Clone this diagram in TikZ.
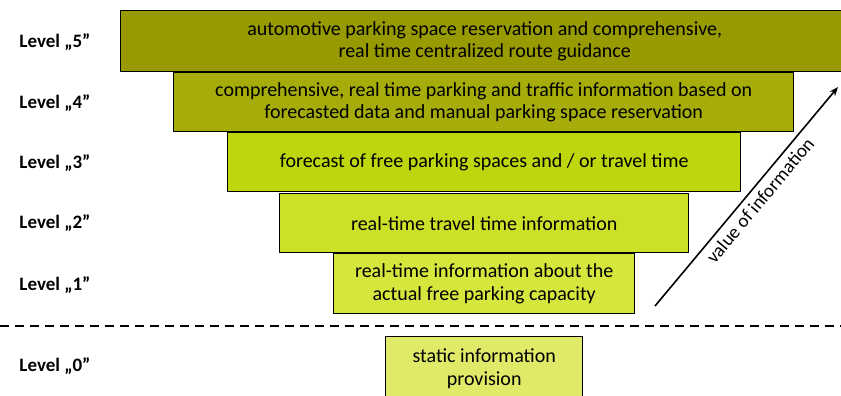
\documentclass[tikz,border=0pt]{standalone}
\usepackage{fontspec}
\setmainfont{Carlito}
\usetikzlibrary{arrows.meta}
\definecolor{cFive}{HTML}{979A00}
\definecolor{cFour}{HTML}{A6AD0A}
\definecolor{cThree}{HTML}{BED60E}
\definecolor{cTwo}{HTML}{CDE028}
\definecolor{cOne}{HTML}{D7E63C}
\definecolor{cZero}{HTML}{E0EA68}
\tikzset{
  lvlbox/.style={draw=black, line width=1.4pt, anchor=north west, inner sep=0pt, align=center,
    font=\fontsize{20}{22.5}\selectfont},
  lvllabel/.style={font=\bfseries\fontsize{19}{22}\selectfont, anchor=center},
}
\begin{document}
\begin{tikzpicture}[x=1pt,y=-1pt]
\useasboundingbox (0,0) rectangle (841,396);
\node[lvlbox, fill=cFive, minimum width=728pt, minimum height=61pt] (b5) at (120,10)
  {automotive parking space reservation and comprehensive,\\real time centralized route guidance};
\node[lvlbox, fill=cFour, minimum width=620pt, minimum height=59pt] (b4) at (173,72)
  {comprehensive, real time parking and traffic information based on\\forecasted data and manual parking space reservation};
\node[lvlbox, fill=cThree, minimum width=513pt, minimum height=59pt] (b3) at (227,132)
  {forecast of free parking spaces and / or travel time};
\node[lvlbox, fill=cTwo, minimum width=409pt, minimum height=59pt] (b2) at (279,193)
  {real-time travel time information};
\node[lvlbox, fill=cOne, minimum width=301pt, minimum height=60pt] (b1) at (333,253)
  {real-time information about the\\actual free parking capacity};
\node[lvlbox, fill=cZero, minimum width=197pt, minimum height=64pt] (b0) at (385,336)
  {static information\\provision};
\node[lvllabel] (l5) at (55,42) {Level „5”};
\node[lvllabel] (l4) at (55,103) {Level „4”};
\node[lvllabel] (l3) at (55,163) {Level „3”};
\node[lvllabel] (l2) at (55,223) {Level „2”};
\node[lvllabel] (l1) at (55,285) {Level „1”};
\node[lvllabel] (l0) at (55,366) {Level „0”};
\coordinate (dl) at (0,326);
\coordinate (dr) at (841,326);
\draw[line width=1.6pt, dash pattern=on 9pt off 6pt] (dl) -- (dr);
\coordinate (at) at (655,306);
\coordinate (ah) at (838,87);
\draw[line width=1.6pt, -{Stealth[length=9pt,width=7pt]}] (at) -- (ah)
  node[pos=0.52, sloped, below=2pt, font=\fontsize{19}{21}\selectfont] (vl) {value of information};
\end{tikzpicture}
\end{document}
